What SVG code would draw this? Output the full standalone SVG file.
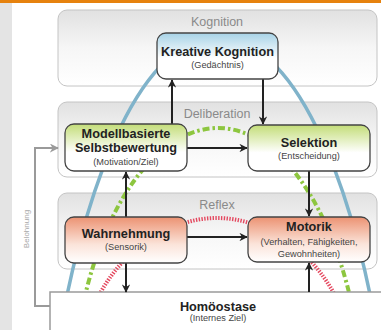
<svg xmlns="http://www.w3.org/2000/svg" width="381" height="330" viewBox="0 0 381 330">
<defs>
<linearGradient id="gLayer" x1="0" y1="0" x2="0" y2="1">
<stop offset="0" stop-color="#e1e1e1"/><stop offset="0.5" stop-color="#f6f6f6"/><stop offset="1" stop-color="#ffffff"/>
</linearGradient>
<linearGradient id="gBlue" x1="0" y1="0" x2="0" y2="1">
<stop offset="0" stop-color="#a6d2e6"/><stop offset="0.55" stop-color="#ffffff"/><stop offset="1" stop-color="#ffffff"/>
</linearGradient>
<linearGradient id="gGreen" x1="0" y1="0" x2="0" y2="1">
<stop offset="0" stop-color="#c3dd78"/><stop offset="0.6" stop-color="#ffffff"/><stop offset="1" stop-color="#ffffff"/>
</linearGradient>
<linearGradient id="gOrange" x1="0" y1="0" x2="0" y2="1">
<stop offset="0" stop-color="#ec9272"/><stop offset="0.6" stop-color="#fbe4da"/><stop offset="1" stop-color="#ffffff"/>
</linearGradient>
<marker id="ah" viewBox="0 0 10 10" refX="9" refY="5" markerWidth="4.2" markerHeight="4.2" orient="auto" markerUnits="strokeWidth">
<path d="M0,0 L10,5 L0,10 L3,5 z" fill="#222"/>
</marker>
<marker id="ahg" viewBox="0 0 10 10" refX="9" refY="5" markerWidth="4.5" markerHeight="4.5" orient="auto" markerUnits="strokeWidth">
<path d="M0,0 L10,5 L0,10 L3,5 z" fill="#9a9a9a"/>
</marker>
<style>
.layer{fill:url(#gLayer);stroke:#c4c4c4;stroke-width:1}
.lbl{font-family:"Liberation Sans",Arial,sans-serif;font-size:12.5px;fill:#8a8a8a;text-anchor:middle}
.node{stroke:#444;stroke-width:1.3}
.t{font-family:"Liberation Sans",Arial,sans-serif;font-size:12.7px;font-weight:bold;fill:#222;text-anchor:middle}
.s{font-family:"Liberation Sans",Arial,sans-serif;font-size:9.2px;fill:#444;text-anchor:middle}
.arr{stroke:#222;stroke-width:2;fill:none;marker-end:url(#ah)}
.blue{fill:none;stroke:#80b3ca;stroke-width:3.5}
.green{fill:none;stroke:#8dc63f;stroke-width:4;stroke-dasharray:7 3 2.5 3}
.red{fill:none;stroke:#e4485f;stroke-width:4;stroke-dasharray:1.4 1.4}
</style>
</defs>
<rect x="0" y="0" width="381" height="330" fill="#ffffff"/>
<rect x="0" y="3" width="12" height="327" fill="#e4e4e4"/>
<rect x="0" y="0" width="381" height="3" fill="#e6820e"/>

<g id="layers">
<g id="layer-kognition"><rect class="layer" x="58" y="10" width="319" height="76" rx="9"/><text class="lbl" x="217" y="26">Kognition</text></g>
<g id="layer-deliberation"><rect class="layer" x="58" y="102" width="319" height="75" rx="9"/><text class="lbl" x="217" y="118">Deliberation</text></g>
<g id="layer-reflex"><rect class="layer" x="58" y="193" width="319" height="76" rx="9"/><text class="lbl" x="217" y="209">Reflex</text></g>
</g>

<g id="curves">
<path class="blue" d="M60 330 C88 180 140 38 218 38 C296 38 350 180 377 330"/>
<path class="green" d="M78 330 C100 200 160 128 218 128 C276 128 334 200 357 330"/>
<path class="red" d="M90 315 C115 250 170 218 217 218 C264 218 319 250 344 315"/>
</g>

<g id="homoeostase">
<rect x="50" y="292" width="340" height="45" fill="#ffffff" stroke="#9a9a9a" stroke-width="1.5"/>
<text class="t" x="218" y="311">Homöostase</text>
<text class="s" x="218" y="321">(Internes Ziel)</text>
</g>

<g id="connectors">
<path class="arr" d="M172 124 V80"/>
<path class="arr" d="M263 79 V124"/>
<path class="arr" d="M187 148 H247"/>
<path class="arr" d="M126 217 V172"/>
<path class="arr" d="M309 171 V216"/>
<path class="arr" d="M187 237 H247"/>
<path class="arr" d="M126 263 V292"/>
<path class="arr" d="M309 292 V263"/>
<path d="M50 306 H35 V148 H58" fill="none" stroke="#9a9a9a" stroke-width="2" marker-end="url(#ahg)"/>
<text x="29" y="229" transform="rotate(-90 29 229)" font-family="Liberation Sans, Arial, sans-serif" font-size="8px" fill="#a8a8a8" text-anchor="middle">Belohnung</text>
</g>

<g id="kreative-kognition">
<rect class="node" x="157" y="33" width="121" height="46" rx="9" fill="url(#gBlue)"/>
<text class="t" x="217.5" y="56">Kreative Kognition</text>
<text class="s" x="217.5" y="68">(Gedächtnis)</text>
</g>
<g id="selbstbewertung">
<rect class="node" x="65" y="124" width="122" height="47" rx="9" fill="url(#gGreen)"/>
<text class="t" x="126" y="138">Modellbasierte</text>
<text class="t" x="126" y="152">Selbstbewertung</text>
<text class="s" x="126" y="165">(Motivation/Ziel)</text>
</g>
<g id="selektion">
<rect class="node" x="248" y="125" width="122" height="46" rx="9" fill="url(#gGreen)"/>
<text class="t" x="309" y="147">Selektion</text>
<text class="s" x="309" y="159">(Entscheidung)</text>
</g>
<g id="wahrnehmung">
<rect class="node" x="65" y="217" width="122" height="46" rx="9" fill="url(#gOrange)"/>
<text class="t" x="126" y="238">Wahrnehmung</text>
<text class="s" x="126" y="250">(Sensorik)</text>
</g>
<g id="motorik">
<rect class="node" x="248" y="217" width="122" height="45" rx="9" fill="url(#gOrange)"/>
<text class="t" x="309" y="231">Motorik</text>
<text class="s" x="309" y="245">(Verhalten, Fähigkeiten,</text>
<text class="s" x="309" y="257">Gewohnheiten)</text>
</g>
</svg>
